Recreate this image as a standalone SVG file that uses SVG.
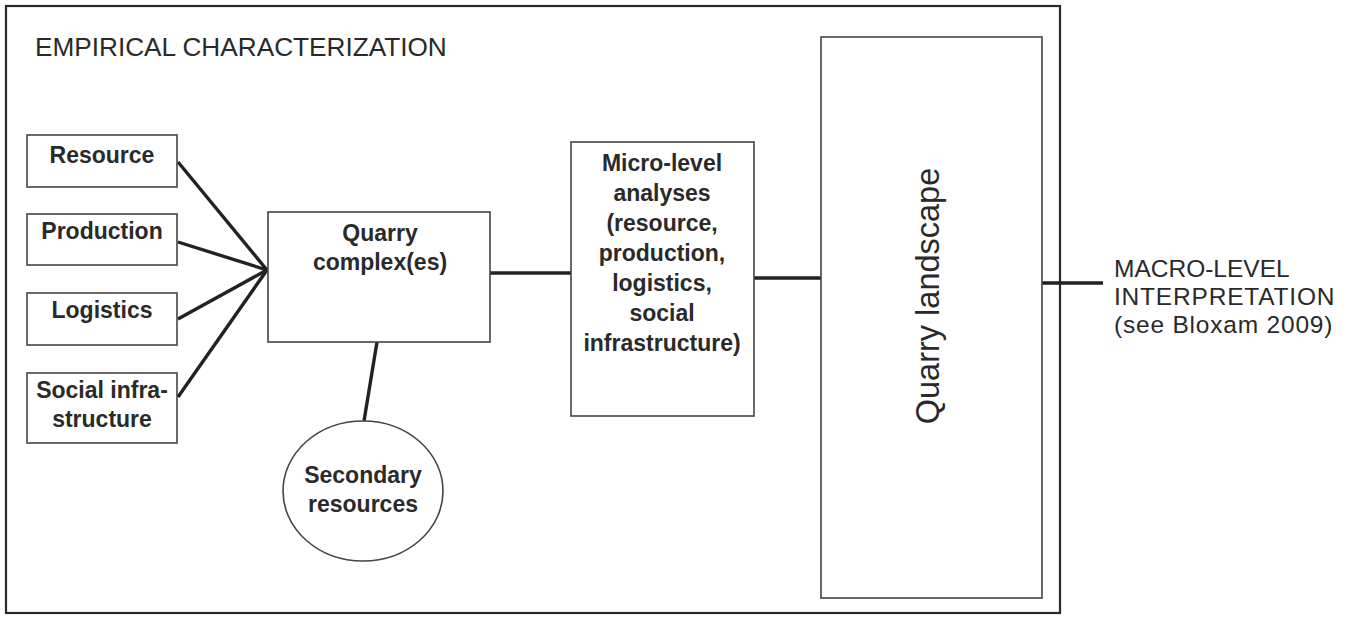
<svg xmlns="http://www.w3.org/2000/svg" width="1347" height="617" viewBox="0 0 1347 617">
<style>
.box{fill:#fff;stroke:#444;stroke-width:1.6}
.frame{fill:none;stroke:#2a2a2a;stroke-width:2.2}
.con{stroke:#222;stroke-width:3.4;fill:none}
.lb{font-family:"Liberation Sans",Arial,sans-serif;font-size:23px;font-weight:bold;fill:#2a2a2a;text-anchor:middle}
.rg{font-family:"Liberation Sans",Arial,sans-serif;fill:#2a2a2a}
.title{font-size:26.2px}
.macro{font-size:24.5px}
.wide{letter-spacing:0.8px}
.land{font-size:32.5px;text-anchor:middle}
</style>
<rect width="1347" height="617" fill="#fff"/>
<g id="frame">
<rect class="frame" x="6" y="6" width="1054" height="607"/>
<text class="rg title" x="35" y="56">EMPIRICAL CHARACTERIZATION</text>
</g>
<g id="connectors">
<line class="con" x1="178" y1="162" x2="267" y2="270"/>
<line class="con" x1="178" y1="242" x2="267" y2="270"/>
<line class="con" x1="178" y1="319" x2="267" y2="270"/>
<line class="con" x1="178" y1="397" x2="267" y2="270"/>
<line class="con" x1="377" y1="342" x2="364" y2="421"/>
<line class="con" x1="490" y1="273" x2="571" y2="273"/>
<line class="con" x1="754" y1="278" x2="821" y2="278"/>
<line class="con" x1="1042" y1="283" x2="1103" y2="283"/>
</g>
<g id="resource">
<rect class="box" x="27" y="135" width="150" height="52"/>
<text class="lb" x="102" y="163">Resource</text>
</g>
<g id="production">
<rect class="box" x="27" y="214" width="150" height="51"/>
<text class="lb" x="102" y="239">Production</text>
</g>
<g id="logistics">
<rect class="box" x="27" y="293" width="150" height="52"/>
<text class="lb" x="102" y="318">Logistics</text>
</g>
<g id="social">
<rect class="box" x="27" y="373" width="150" height="70"/>
<text class="lb" x="102" y="398">Social infra-</text>
<text class="lb" x="102" y="427">structure</text>
</g>
<g id="quarry-complex">
<rect class="box" x="268" y="212" width="222" height="130"/>
<text class="lb" x="380" y="241">Quarry</text>
<text class="lb" x="380" y="270">complex(es)</text>
</g>
<g id="secondary">
<ellipse class="box" cx="363" cy="491" rx="80" ry="70"/>
<text class="lb" x="363" y="483">Secondary</text>
<text class="lb" x="363" y="512">resources</text>
</g>
<g id="micro">
<rect class="box" x="571" y="142" width="183" height="274"/>
<text class="lb" x="662" y="171">Micro-level</text>
<text class="lb" x="662" y="201">analyses</text>
<text class="lb" x="662" y="231">(resource,</text>
<text class="lb" x="662" y="261">production,</text>
<text class="lb" x="662" y="291">logistics,</text>
<text class="lb" x="662" y="321">social</text>
<text class="lb" x="662" y="351">infrastructure)</text>
</g>
<g id="landscape">
<rect class="box" x="821" y="37" width="221" height="561"/>
<text class="rg land" transform="translate(939 296) rotate(-90)">Quarry landscape</text>
</g>
<g id="macro">
<text class="rg macro" x="1114" y="277">MACRO-LEVEL</text>
<text class="rg macro wide" x="1114" y="305">INTERPRETATION</text>
<text class="rg macro wide" x="1114" y="333">(see Bloxam 2009)</text>
</g>
</svg>
